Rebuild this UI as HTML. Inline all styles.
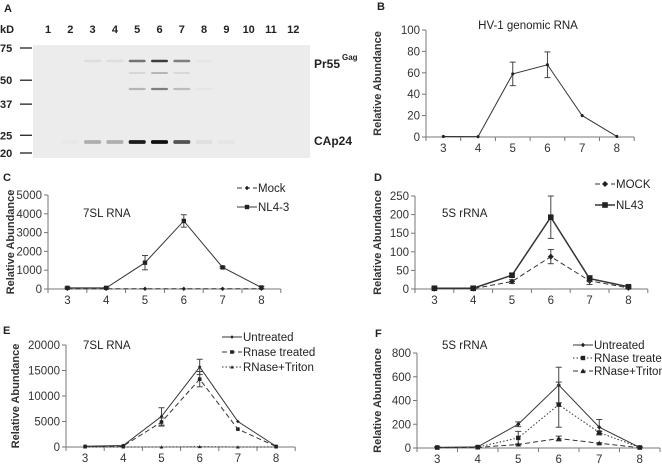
<!DOCTYPE html>
<html><head><meta charset="utf-8"><style>
html,body{margin:0;padding:0;background:#fff;}
svg{display:block;font-family:"Liberation Sans",Arial,sans-serif;}
</style></head><body>
<svg id="fig" width="662" height="464" viewBox="0 0 662 464"></svg>
<script>
// ---- data ----
const cats = [3,4,5,6,7,8];
const bVals = [0.5,0.3,59,67.5,20,0.5];
const bErr = [0,0,11,12,0,0];
const cMock = [10,10,10,10,10,10];
const cMockErr = [0,0,0,0,0,0];
const cNL = [60,60,1400,3620,1150,80];
const cNLErr = [40,30,380,330,40,50];
const dMock = [1,1,20,87,22,3];
const dMockErr = [3,2,5,19,10,3];
const dNL = [2,2,37,193,28,6];
const dNLErr = [3,3,5,57,8,3];
const eUnt = [150,300,6000,15700,5000,150];
const eUntErr = [0,0,1700,1500,0,0];
const eRn = [100,200,4900,13300,3500,100];
const eRnErr = [0,0,800,1500,0,0];
const eTr = [0,0,0,50,0,0];
const eTrErr = [0,0,0,0,0,0];
const fUnt = [5,10,200,530,175,5];
const fUntErr = [5,5,20,150,65,5];
const fRn = [5,8,85,365,130,5];
const fRnErr = [5,5,55,190,10,5];
const fTr = [3,5,30,80,40,3];
const fTrErr = [0,0,5,20,5,0];
const bTicks = [0,20,40,60,80,100];
const cTicks = [0,1000,2000,3000,4000,5000];
const dTicks = [0,50,100,150,200,250];
const eTicks = [0,5000,10000,15000,20000];
const fTicks = [0,200,400,600,800];
const lanes = ['1','2','3','4','5','6','7','8','9','10','11','12'];
const kdLabels = ['75','50','37','25','20'];
const kdVals = [75,50,37,25,20];
const gagIntensity = [0,0,0.07,0.07,0.55,0.8,0.5,0.03,0,0,0,0];
const p24Intensity = [0,0.02,0.28,0.28,0.95,1,0.7,0.06,0.03,0,0,0];
const midIntensity = [0,0,0,0,0.12,0.28,0.1,0,0,0,0,0];
const mid2Intensity = [0,0,0,0,0.25,0.5,0.22,0.03,0,0,0,0];

const NS='http://www.w3.org/2000/svg';
const svg=document.getElementById('fig');
function mk(tag,attrs,parent){const e=document.createElementNS(NS,tag);for(const k in attrs)e.setAttribute(k,attrs[k]);(parent||svg).appendChild(e);return e;}
function txt(s,x,y,attrs,parent){const e=mk('text',Object.assign({x:x,y:y,'font-size':11,fill:'#222'},attrs||{}),parent);e.textContent=s;return e;}

// ---- panel A blot ----
const gA=mk('g',{});


txt('A',4,12,{'font-size':11,'font-weight':'bold'},gA);
txt('kD',0,33,{'font-size':11,'font-weight':'bold'},gA);
const gel=mk('rect',{x:33,y:45,width:277,height:113,fill:'#ececec'},gA);


function laneX(i){return 48+i*22.3;}
function kdY(v){return 153-(Math.log(v)-Math.log(20))/(Math.log(75)-Math.log(20))*105;}
lanes.forEach((l,i)=>{const t=txt(l,laneX(i),33,{'font-size':11,'font-weight':'bold','text-anchor':'middle'},gA);

});
kdLabels.forEach((l,i)=>{const y=kdY(kdVals[i]);
mk('line',{x1:20,x2:32,y1:y,y2:y,stroke:'#222','stroke-width':1.3},gA);
const t=txt(l,0,y+4,{'font-size':11,'font-weight':'bold'},gA);

});
function band(arr,y,h){arr.forEach((v,i)=>{if(v<=0)return;const c=Math.round(236-v*220);
const r=mk('rect',{x:laneX(i)-8.5,y:y-h/2,width:17,height:h,rx:1.5,fill:`rgb(${c},${c},${c})`},gA);

});}
band(gagIntensity,61,2.5);band(midIntensity,73,1.8);band(mid2Intensity,89,2.2);band(p24Intensity,142,3.8);
const pr=txt('Pr55',314,68,{'font-size':12,'font-weight':'bold'},gA);

txt('Gag',342,60,{'font-size':8,'font-weight':'bold'},gA);
const ca=txt('CAp24',314,145,{'font-size':12,'font-weight':'bold'},gA);


// ---- generic chart ----
function marker(g,type,x,y,s){
  if(type==='diamond')return mk('path',{d:`M${x} ${y-s}L${x+s} ${y}L${x} ${y+s}L${x-s} ${y}Z`,fill:'#222'},g);
  if(type==='square')return mk('rect',{x:x-s,y:y-s,width:2*s,height:2*s,fill:'#222'},g);
  if(type==='tri')return mk('path',{d:`M${x} ${y-s}L${x+s} ${y+s*0.8}L${x-s} ${y+s*0.8}Z`,fill:'#222'},g);
  return mk('circle',{cx:x,cy:y,r:s*0.7,fill:'#222'},g);
}
const dashes={solid:'',dash:'5,3',dot:'1.5,2'};
function chart(o){
  const g=mk('g',{});
  
  
  const x0=o.x0,bw=o.bw,n=cats.length,x1=x0+bw*n;
  const ymax=o.ticks[o.ticks.length-1];
  const sx=i=>x0+bw*(i+0.5);
  const sy=v=>o.y0-(v/ymax)*(o.y0-o.ytop);
  txt(o.letter,o.lx,o.ly,{'font-size':11,'font-weight':'bold'},g);
  const yl=txt('Relative Abundance',0,0,{'font-size':11,'font-weight':'bold','text-anchor':'middle',transform:`translate(${o.ylx},${(o.y0+o.ytop)/2}) rotate(-90)`,fill:'#333'},g);
  
  
  const t=txt(o.title,o.tx,o.ty,{'font-size':11.5,'text-anchor':o.tanchor||'start'},g);
  
  
  mk('line',{x1:x0,x2:x0,y1:o.ytop,y2:o.y0,stroke:'#777'},g);
  mk('line',{x1:x0,x2:x1,y1:o.y0,y2:o.y0,stroke:'#777'},g);
  o.ticks.forEach(v=>{const y=sy(v);mk('line',{x1:x0-4,x2:x0,y1:y,y2:y,stroke:'#777'},g);
    const tl=txt(String(v),x0-6,y+4,{'text-anchor':'end','font-size':11.5,fill:'#333'},g);
    
    });
  for(let i=0;i<=n;i++){const x=x0+bw*i;mk('line',{x1:x,x2:x,y1:o.y0,y2:o.y0+4,stroke:'#777'},g);}
  cats.forEach((c,i)=>{const tl=txt(String(c),sx(i),o.y0+15,{'text-anchor':'middle','font-size':11.5,fill:'#333'},g);
    
    });
  o.series.forEach((s,si)=>{
    const sg=mk('g',{},g);
    
    
    const pts=s.vals.map((v,i)=>sx(i)+','+sy(v)).join(' ');
    mk('polyline',{points:pts,fill:'none',stroke:'#333','stroke-width':s.w||1,'stroke-dasharray':dashes[s.style]},sg);
    s.vals.forEach((v,i)=>{const e=s.err[i];if(e>0){const x=sx(i);
      mk('line',{x1:x,x2:x,y1:sy(v+e),y2:sy(Math.max(0,v-e)),stroke:'#444'},sg);
      mk('line',{x1:x-3,x2:x+3,y1:sy(v+e),y2:sy(v+e),stroke:'#444'},sg);
      mk('line',{x1:x-3,x2:x+3,y1:sy(Math.max(0,v-e)),y2:sy(Math.max(0,v-e)),stroke:'#444'},sg);}
      const m=marker(sg,s.marker,sx(i),sy(v),s.ms||2.2);
      
      });
    if(o.legend){const L=o.legend,ly=L.y+si*L.dy;
      const lg=mk('g',{},g);
      
      
      mk('line',{x1:L.x,x2:L.x+20,y1:ly,y2:ly,stroke:'#333','stroke-width':s.w||1,'stroke-dasharray':dashes[s.style]},lg);
      marker(lg,s.marker,L.x+10,ly,s.ms||2.2);
      txt(s.label,L.x+21,ly+4,{'font-size':11.5,fill:'#222'},lg);}
  });
}
chart({name:'panel-b-chart',letter:'B',lx:377,ly:10,x0:426,bw:34.7,y0:137,ytop:30,ticks:bTicks,ylx:381,title:'HV-1 genomic RNA',tx:528,ty:29,tanchor:'middle',
  series:[{key:'genomic',vals:bVals,err:bErr,style:'solid',marker:'dot',label:''}]});
chart({name:'panel-c-chart',letter:'C',lx:3,ly:181,x0:48,bw:38.8,y0:289,ytop:195,ticks:cTicks,ylx:14,title:'7SL RNA',tx:83,ty:217,
  legend:{x:237,y:188,dy:19},
  series:[{key:'mock',vals:cMock,err:cMockErr,style:'dash',marker:'diamond',label:'Mock'},
          {key:'nl43',vals:cNL,err:cNLErr,style:'solid',marker:'square',label:'NL4-3'}]});
chart({name:'panel-d-chart',letter:'D',lx:374,ly:181,x0:415,bw:38.8,y0:289,ytop:196,ticks:dTicks,ylx:381,title:'5S rRNA',tx:442,ty:217,
  legend:{x:595,y:184,dy:21},
  series:[{key:'mock',vals:dMock,err:dMockErr,style:'dash',marker:'diamond',label:'MOCK',ms:3},
          {key:'nl43',vals:dNL,err:dNLErr,style:'solid',marker:'square',label:'NL43',w:1.5,ms:2.8}]});
chart({name:'panel-e-chart',letter:'E',lx:3,ly:334,x0:66,bw:38.2,y0:447,ytop:345,ticks:eTicks,ylx:19,title:'7SL RNA',tx:83,ty:349,
  legend:{x:222,y:337,dy:15},
  series:[{key:'untreated',vals:eUnt,err:eUntErr,style:'solid',marker:'diamond',label:'Untreated',ms:1.8},
          {key:'rnase',vals:eRn,err:eRnErr,style:'dash',marker:'square',label:'Rnase treated',ms:1.8},
          {key:'triton',vals:eTr,err:eTrErr,style:'dot',marker:'tri',label:'RNase+Triton',ms:1.8}]});
chart({name:'panel-f-chart',letter:'F',lx:375,ly:337,x0:417,bw:40.5,y0:448,ytop:353,ticks:fTicks,ylx:381,title:'5S rRNA',tx:442,ty:349,
  legend:{x:573,y:345,dy:13},
  series:[{key:'untreated',vals:fUnt,err:fUntErr,style:'solid',marker:'diamond',label:'Untreated'},
          {key:'rnase',vals:fRn,err:fRnErr,style:'dot',marker:'square',label:'RNase treated'},
          {key:'triton',vals:fTr,err:fTrErr,style:'dash',marker:'tri',label:'RNase+Triton',ms:2.6}]});
</script>
</body></html>
